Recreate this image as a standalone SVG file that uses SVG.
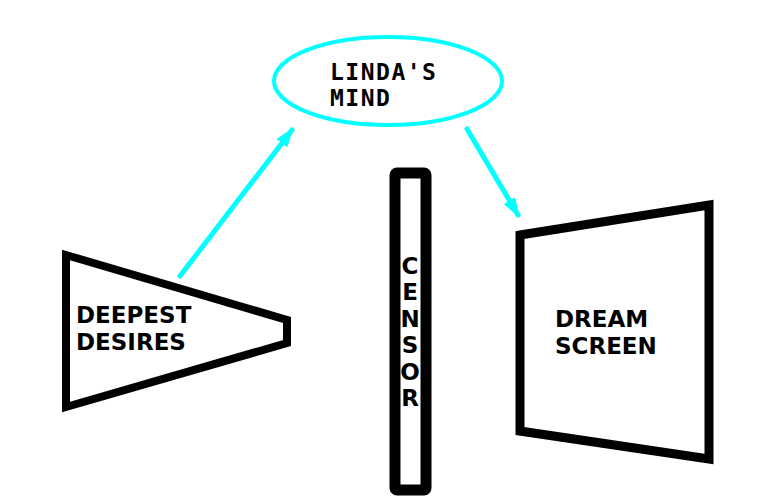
<svg xmlns="http://www.w3.org/2000/svg" width="784" height="500" viewBox="0 0 784 500">
<defs>
<style>
.shape{fill:none;stroke:#000;stroke-linejoin:miter}
.lbl{font-family:"DejaVu Sans","Liberation Sans",sans-serif;font-weight:bold;font-size:23px;fill:#000}
.mono{font-family:"DejaVu Sans Mono","Liberation Mono",monospace;font-weight:bold;font-size:23px;fill:#000;letter-spacing:1.5px}
.conn{stroke:#00ffff;stroke-width:5;fill:none;stroke-linecap:round}
</style>
<marker id="ah" viewBox="0 0 12 8" refX="10" refY="4" markerWidth="4" markerHeight="2.8" orient="auto" markerUnits="strokeWidth">
<path d="M0,0 L12,4 L0,8 z" fill="#00ffff"/>
</marker>
</defs>
<rect width="784" height="500" fill="#fff"/>
<g id="lindas-mind">
<ellipse cx="388" cy="81" rx="114" ry="44" fill="none" stroke="#00ffff" stroke-width="4"/>
<text class="mono" x="330" y="80">LINDA'S</text>
<text class="mono" x="330" y="106">MIND</text>
</g>
<g id="deepest-desires">
<polygon class="shape" stroke-width="8" points="66,255 287,320 287,343 66,407"/>
<text class="lbl" x="76" y="323">DEEPEST</text>
<text class="lbl" x="76" y="350">DESIRES</text>
</g>
<g id="censor">
<rect class="shape" x="395" y="173" width="31" height="317" rx="2" stroke-width="11"/>
<g class="lbl" text-anchor="middle" font-size="22">
<text x="410" y="274">C</text>
<text x="410" y="300">E</text>
<text x="410" y="327">N</text>
<text x="410" y="353">S</text>
<text x="410" y="380">O</text>
<text x="410" y="406">R</text>
</g>
</g>
<g id="dream-screen">
<polygon class="shape" stroke-width="9" points="520,235 709,205 709,459 520,431"/>
<text class="lbl" x="555" y="327">DREAM</text>
<text class="lbl" x="555" y="354">SCREEN</text>
</g>
<g id="connectors">
<line class="conn" x1="180" y1="276" x2="292" y2="130" marker-end="url(#ah)"/>
<line class="conn" x1="467" y1="129" x2="518" y2="215" marker-end="url(#ah)"/>
</g>
</svg>
